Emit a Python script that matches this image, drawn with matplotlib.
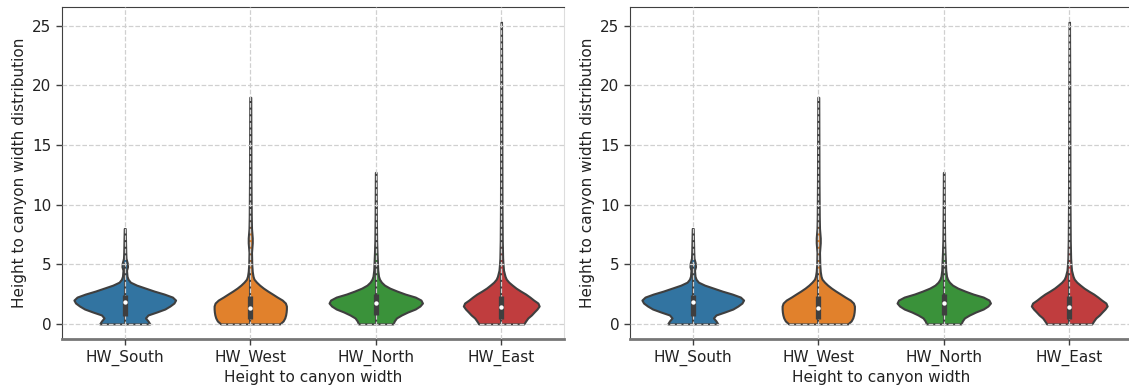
import matplotlib
matplotlib.use("Agg")
import matplotlib.pyplot as plt

# height-to-width categories and their colours
categories = ["HW_South", "HW_West", "HW_North", "HW_East"]
colors = ["#3274a1", "#e1812c", "#3a923a", "#c03d3e"]

# density outlines: heights and violin half-widths (in category units)
south_y = [0, 0.25, 0.5, 0.75, 1.0, 1.25, 1.5, 1.75, 2.0, 2.25, 2.5, 2.75, 3.0,
           3.25, 3.5, 3.75, 4.0, 4.5, 4.8, 5.1, 5.5, 6.0, 7.0, 8.0]
south_w = [0.200, 0.185, 0.165, 0.185, 0.255, 0.320, 0.360, 0.392, 0.405, 0.380,
           0.315, 0.235, 0.165, 0.095, 0.045, 0.026, 0.018, 0.014, 0.022, 0.020,
           0.010, 0.008, 0.006, 0.004]

west_y = [0, 0.25, 0.5, 0.75, 1.0, 1.25, 1.5, 1.75, 2.0, 2.25, 2.5, 2.75, 3.0,
          3.25, 3.5, 3.75, 4.0, 4.4, 5.0, 6.0, 6.8, 7.2, 8.0, 9.0, 12.0, 19.0]
west_w = [0.236, 0.262, 0.275, 0.282, 0.286, 0.288, 0.288, 0.280, 0.255, 0.215,
          0.178, 0.140, 0.105, 0.075, 0.050, 0.030, 0.022, 0.016, 0.012, 0.010,
          0.016, 0.016, 0.010, 0.008, 0.006, 0.004]

north_y = [0, 0.25, 0.5, 0.75, 1.0, 1.25, 1.5, 1.75, 2.0, 2.25, 2.5, 2.75, 3.0,
           3.25, 3.5, 3.75, 4.0, 4.5, 5.0, 5.5, 6.0, 7.0, 9.0, 12.7]
north_w = [0.138, 0.148, 0.165, 0.205, 0.255, 0.315, 0.352, 0.372, 0.360, 0.315,
           0.235, 0.170, 0.112, 0.070, 0.045, 0.030, 0.022, 0.016, 0.014, 0.012,
           0.010, 0.007, 0.005, 0.003]

east_y = [0, 0.25, 0.5, 0.75, 1.0, 1.25, 1.5, 1.75, 2.0, 2.25, 2.5, 2.75, 3.0,
          3.25, 3.5, 3.75, 4.0, 4.5, 5.0, 5.5, 7.0, 10.0, 15.0, 20.0, 25.3]
east_w = [0.180, 0.195, 0.212, 0.240, 0.262, 0.285, 0.302, 0.292, 0.258, 0.228,
          0.195, 0.155, 0.118, 0.088, 0.060, 0.040, 0.030, 0.018, 0.014, 0.011,
          0.008, 0.006, 0.005, 0.004, 0.002]

# box summary: lower whisker, q1, median, q3, upper whisker
q1 = [0.70, 0.40, 0.78, 0.45]
median = [1.80, 1.35, 1.72, 1.42]
q3 = [2.45, 2.30, 2.50, 2.35]
whisk_lo = [0, 0, 0, 0]
whisk_hi = [5.0, 4.4, 5.1, 4.2]

profiles = [(south_y, south_w), (west_y, west_w), (north_y, north_w), (east_y, east_w)]

edge = "#3f3f3f"
text_color = "#222222"

fig = plt.figure(figsize=(11.29, 3.89), dpi=100)
ax_w = 502 / 1129
ax_h = 332 / 389
ax_b = 50 / 389
axes = [fig.add_axes([62 / 1129, ax_b, ax_w, ax_h]),
        fig.add_axes([630 / 1129, ax_b, ax_w, ax_h])]

for ax in axes:
    for i, (ys, ws) in enumerate(profiles):
        left = [i - w for w in ws]
        right = [i + w for w in ws]
        ax.fill_betweenx(ys, left, right, facecolor=colors[i], edgecolor=edge,
                         linewidth=1.5, zorder=1)
        ax.plot([i, i], [whisk_lo[i], whisk_hi[i]], color=edge, lw=1.5, zorder=2)
        ax.plot([i, i], [q1[i], q3[i]], color=edge, lw=3.8,
                solid_capstyle="butt", zorder=3)
        ax.scatter([i], [median[i]], s=10, color="white", zorder=4, linewidths=0)

    ax.set_xlim(-0.5, 3.5)
    ax.set_ylim(-1.265, 26.57)
    ax.set_xticks(range(len(categories)))
    ax.set_xticklabels(categories)
    ax.set_yticks([0, 5, 10, 15, 20, 25])
    ax.set_axisbelow(False)
    ax.grid(True, linestyle="--", color="#d0d0d0", linewidth=0.9)
    ax.tick_params(direction="out", length=4, width=1, colors=edge,
                   labelcolor=text_color, labelsize=11)
    ax.set_xlabel("Height to canyon width", fontsize=11, color=text_color, labelpad=3)
    ax.set_ylabel("Height to canyon width distribution", fontsize=11,
                  color=text_color, labelpad=4)
    ax.spines["left"].set_color("#404040")
    ax.spines["top"].set_color("#404040")
    ax.spines["right"].set_color("#dddddd")
    ax.spines["bottom"].set_color("#777777")
    ax.spines["bottom"].set_linewidth(2)

fig.savefig("out.png", dpi=100)
